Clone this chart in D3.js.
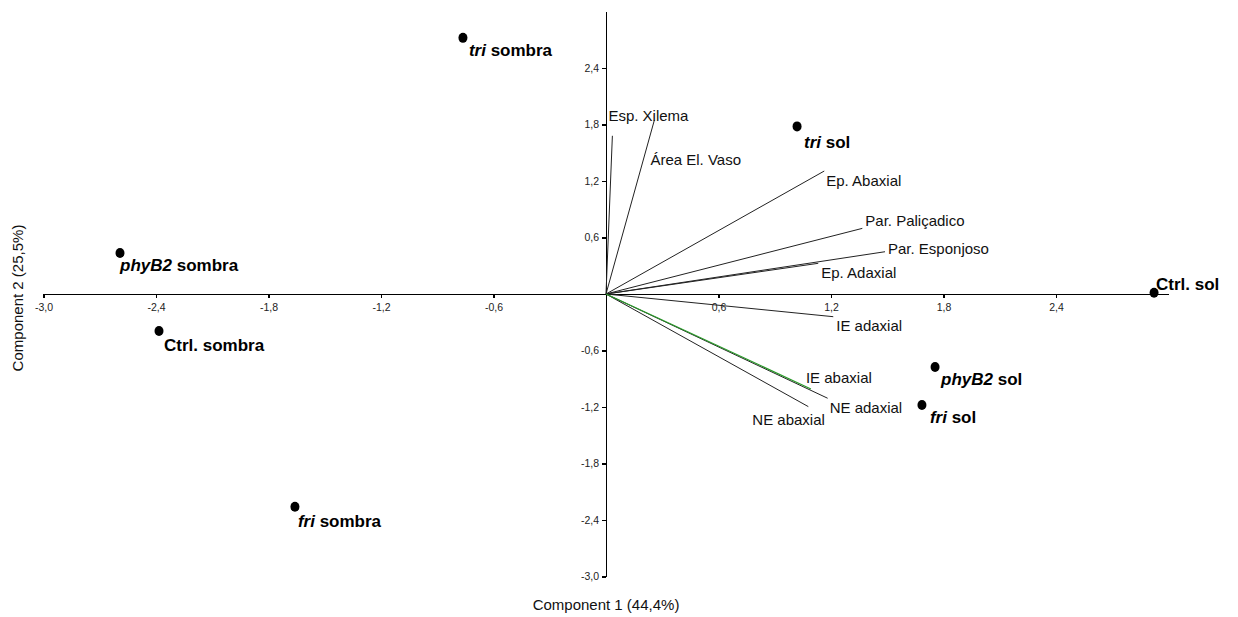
<!DOCTYPE html>
<html>
<head>
<meta charset="utf-8">
<script src="https://cdn.jsdelivr.net/npm/d3@7"></script>
<style>
  html, body { margin: 0; padding: 0; background: #fff; }
  svg { display: block; font-family: "Liberation Sans", Arial, sans-serif; }
  .axis path, .axis line { stroke: #000; stroke-width: 1.2; shape-rendering: crispEdges; }
  .axis text { font-size: 10.5px; fill: #222; }
</style>
</head>
<body>
<svg id="chart" width="1238" height="617"></svg>
<script>
// PCA biplot: sample scores and variable loadings on components 1 and 2

// Samples (scores)
const genotypes  = ["tri", "tri", "phyB2", "Ctrl.", "fri", "Ctrl.", "phyB2", "fri"];
const conditions = ["sombra", "sol", "sombra", "sombra", "sombra", "sol", "sol", "sol"];
const pc1 = [-0.763, 1.019, -2.592, -2.384, -1.659, 2.923, 1.755, 1.685];
const pc2 = [2.720, 1.780, 0.435, -0.393, -2.260, 0.014, -0.775, -1.178];

// Variables (loadings)
const variables = ["Esp. Xilema", "Área El. Vaso", "Ep. Abaxial", "Par. Paliçadico", "Par. Esponjoso",
                   "Ep. Adaxial", "IE adaxial", "NE adaxial", "NE abaxial", "IE abaxial"];
const load1 = [0.034, 0.258, 1.164, 1.367, 1.488, 1.132, 1.212, 1.182, 1.079, 1.093];
const load2 = [1.680, 1.847, 1.306, 0.697, 0.449, 0.326, -0.241, -1.107, -1.196, -1.008];

// Axis ticks
const tickValues = [-3.0, -2.4, -1.8, -1.2, -0.6, 0.6, 1.2, 1.8, 2.4];
const xTitle = "Component 1 (44,4%)";
const yTitle = "Component 2 (25,5%)";

// Label placement (pixel offsets from the vector tip / point)
const sampleLabelOffset = [[6, 18], [7, 22], [0, 18], [5, 20], [3, 20], [2, -3], [6, 18], [8, 18]];
const variableLabelOffset = [[-4, -15], [-4, 45], [2, 15], [3, -2], [3, 2], [3, 15], [3, 14], [2, 15], [-56, 18], [-5, -6]];
const variableColor = (name) => name === "IE abaxial" ? "#2a9a2a" : "#222";

const svg = d3.select("#chart");

const x = d3.scaleLinear().domain([-3, 3]).range([43.5, 1168.5]);
const y = d3.scaleLinear().domain([-3, 3]).range([576.5, 11.5]);

const fmt = (v) => d3.format(".1f")(v).replace(".", ",").replace("−", "-");

// Axes cross at the origin
svg.append("g")
  .attr("class", "axis")
  .attr("transform", `translate(0,${y(0)})`)
  .call(d3.axisBottom(x).tickValues(tickValues).tickFormat(fmt).tickSize(4).tickSizeOuter(0).tickPadding(6));

svg.append("g")
  .attr("class", "axis")
  .attr("transform", `translate(${x(0)},0)`)
  .call(d3.axisLeft(y).tickValues(tickValues).tickFormat(fmt).tickSize(4).tickSizeOuter(0).tickPadding(3));

svg.selectAll(".axis .domain").attr("stroke-width", 1.3);

// Loading vectors
const vars = variables.map((name, i) => ({ name, a: load1[i], b: load2[i], off: variableLabelOffset[i] }));

svg.append("g").selectAll("line")
  .data(vars)
  .join("line")
  .attr("x1", x(0)).attr("y1", y(0))
  .attr("x2", d => x(d.a)).attr("y2", d => y(d.b))
  .attr("stroke", d => variableColor(d.name))
  .attr("stroke-width", d => d.name === "IE abaxial" ? 1.2 : 1);

svg.append("g").selectAll("text")
  .data(vars)
  .join("text")
  .attr("x", d => x(d.a) + d.off[0])
  .attr("y", d => y(d.b) + d.off[1])
  .attr("font-size", 15)
  .attr("fill", "#111")
  .text(d => d.name);

// Sample points
const samples = genotypes.map((g, i) => ({ g, c: conditions[i], s1: pc1[i], s2: pc2[i], off: sampleLabelOffset[i] }));

svg.append("g").selectAll("ellipse")
  .data(samples)
  .join("ellipse")
  .attr("cx", d => x(d.s1)).attr("cy", d => y(d.s2))
  .attr("rx", 4.5).attr("ry", 5)
  .attr("fill", "#000");

const lbl = svg.append("g").selectAll("text")
  .data(samples)
  .join("text")
  .attr("x", d => x(d.s1) + d.off[0])
  .attr("y", d => y(d.s2) + d.off[1])
  .attr("font-size", 17)
  .attr("font-weight", "bold")
  .attr("fill", "#000");

lbl.append("tspan")
  .attr("font-style", d => d.g === "Ctrl." ? "normal" : "italic")
  .text(d => d.g);
lbl.append("tspan").text(d => " " + d.c);

// Axis titles
svg.append("text")
  .attr("x", x(0)).attr("y", 610)
  .attr("text-anchor", "middle")
  .attr("font-size", 15)
  .attr("fill", "#111")
  .text(xTitle);

svg.append("text")
  .attr("transform", `translate(23,${y(0) + 4}) rotate(-90)`)
  .attr("text-anchor", "middle")
  .attr("font-size", 15)
  .attr("fill", "#111")
  .text(yTitle);
</script>
</body>
</html>
